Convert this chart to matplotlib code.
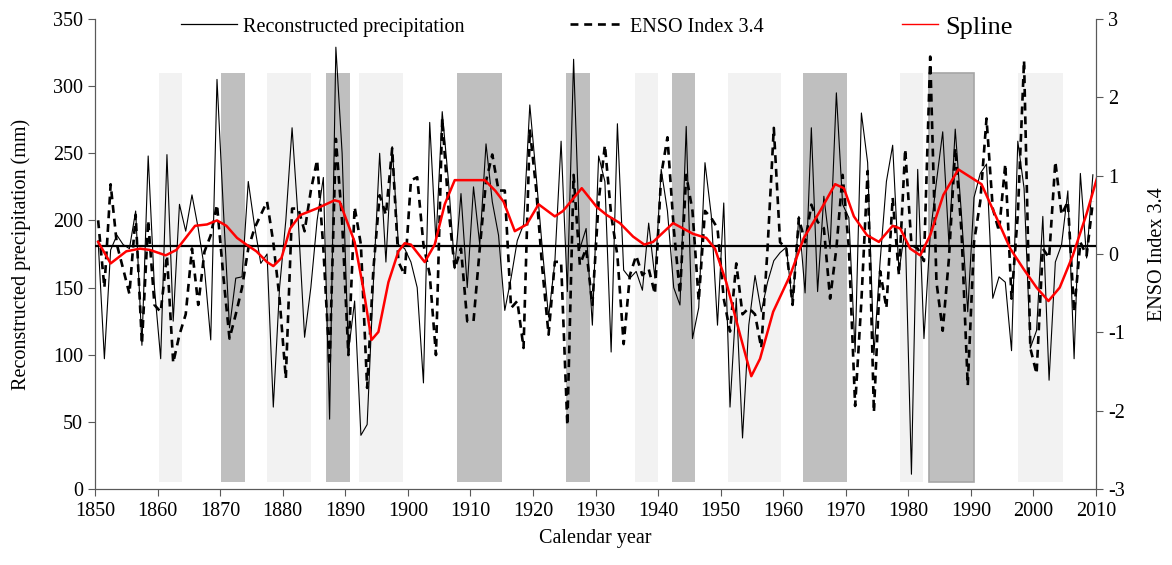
import numpy as np
import matplotlib
matplotlib.use("Agg")
import matplotlib.pyplot as plt
from matplotlib.lines import Line2D
from matplotlib.patches import Rectangle

plt.rcParams['font.family'] = ['Liberation Serif', 'DejaVu Serif']
plt.rcParams['axes.unicode_minus'] = False

# annual series, 1850-2009
years = np.arange(1850, 2010)

precip = [185, 97, 178, 189, 182, 179, 207, 107, 248, 150,
          97, 249, 125, 212, 192, 219, 194, 164, 111, 305,
          210, 120, 157, 158, 229, 196, 168, 175, 61, 150,
          200, 269, 199, 113, 150, 200, 232, 52, 329, 250,
          102, 140, 40, 48, 154, 250, 169, 255, 182, 179,
          169, 150, 79, 273, 184, 281, 229, 164, 220, 150,
          225, 182, 257, 214, 189, 133, 157, 185, 197, 286,
          234, 179, 128, 169, 259, 147, 320, 179, 194, 122,
          248, 229, 102, 272, 163, 157, 162, 148, 198, 157,
          238, 207, 150, 137, 270, 112, 135, 243, 204, 122,
          213, 61, 142, 38, 122, 159, 132, 154, 170, 176,
          180, 137, 203, 146, 269, 147, 218, 179, 295, 212,
          202, 102, 280, 243, 100, 170, 229, 256, 162, 194,
          11, 238, 112, 189, 229, 266, 182, 268, 204, 132,
          217, 235, 242, 142, 158, 154, 103, 259, 224, 105,
          118, 203, 81, 169, 182, 222, 97, 235, 172, 234]

enso = [0.43, -0.43, 0.89, 0.12, -0.19, -0.51, 0.50, -1.15, 0.43, -0.65,
        -0.74, -0.02, -1.39, -1.03, -0.77, 0.07, -0.65, 0.03, 0.24, 0.63,
        -0.27, -1.08, -0.77, -0.43, 0.07, 0.33, 0.50, 0.67, 0.15, -0.57,
        -1.59, 0.58, 0.58, 0.29, 0.81, 1.20, 0.07, -1.42, 1.47, 0.41,
        -1.29, 0.60, 0.12, -1.71, -0.19, 0.75, 0.50, 1.35, -0.10, -0.27,
        0.94, 0.98, 0.12, -0.26, -1.29, 1.73, 0.58, -0.19, 0.07, -0.86,
        -0.86, 0.07, 0.93, 1.27, 0.81, 0.81, -0.69, -0.60, -1.20, 1.59,
        0.84, -0.19, -1.03, -0.10, -0.10, -2.19, 1.01, -0.14, 0.07, -0.65,
        0.67, 1.39, 0.50, -0.02, -1.15, -0.27, -0.02, -0.27, -0.19, -0.51,
        1.01, 1.49, 0.33, -0.51, 1.01, 0.55, -0.60, 0.55, 0.46, 0.33,
        -0.57, -0.99, -0.12, -0.77, -0.69, -0.77, -1.20, 0.07, 1.61, 0.15,
        0.07, -0.65, 0.46, 0.15, 0.63, 0.41, 0.33, -0.57, 0.07, 1.01,
        0.07, -1.94, -0.60, 1.06, -2.02, -0.22, -0.69, 0.72, -0.27, 1.34,
        0.12, 0.07, -0.09, 2.52, -0.36, -0.98, -0.05, 1.35, 0.29, -1.68,
        0.15, 0.67, 1.73, 0.58, 0.29, 1.15, -0.57, 0.50, 2.47, -1.20,
        -1.53, 0.07, -0.05, 1.18, 0.50, 0.67, -0.74, 0.15, -0.02, 0.67]

# smoothing spline of precipitation, read at irregular positions
spline_t = [0, 2, 4.5, 6.7, 8.3, 10.8, 12.5, 14, 15.5, 17.4, 19, 20.5, 22.2,
            23.7, 25.3, 27, 28, 29.3, 30.7, 32.3, 35, 37.8, 38.6, 41, 42.4,
            43.7, 44.8, 46.4, 48, 49, 50, 52.2, 53.8, 55.4, 57, 59.2, 61.8,
            63.5, 64.8, 66.6, 68.5, 70.4, 73, 74.3, 77.3, 79.7, 81.3, 83.4,
            85.5, 87.3, 88.7, 91.9, 95.1, 97.2, 98.6, 100.4, 102.6, 104.4,
            105.8, 107.9, 110.6, 112.8, 115.4, 117.8, 119.2, 120.8, 122.9,
            124.8, 127, 128.2, 129.8, 131.4, 133, 135.1, 137.5, 141.2, 143.6,
            145.8, 147.9, 150, 151.9, 153.7, 155.8, 158, 160]
spline_v = [184, 168, 177, 179, 178, 174, 178, 187, 196, 197, 200, 196, 187,
            182, 177, 169, 166, 172, 194, 204, 209, 215, 214, 184, 149,
            111, 117, 154, 177, 183, 182, 169, 182, 212, 230, 230, 230,
            222, 214, 192, 197, 212, 203, 207, 224, 210, 204, 198,
            188, 182, 184, 198, 190, 187, 179, 154, 115, 84,
            97, 132, 159, 187, 207, 227, 224, 203, 189,
            184, 196, 194, 179, 174, 189, 219, 238, 227, 202,
            179, 164, 150, 140, 150, 174, 205, 237]

mean_precip = 181

# shaded periods (light / dark)
band_start = [1860.2, 1870.2, 1877.5, 1886.9, 1892.2, 1907.8, 1925.3, 1936.3,
              1942.2, 1951.2, 1963.1, 1978.7, 1983.3, 1997.6]
band_end = [1863.9, 1873.9, 1884.5, 1890.7, 1899.2, 1915.1, 1929.1, 1940.0,
            1945.9, 1959.6, 1970.2, 1982.4, 1990.5, 2004.7]
band_dark = [False, True, False, True, False, True, True, False,
             True, False, True, False, True, False]
band_low, band_high = 5, 310

fig = plt.figure(figsize=(11.72, 5.65), dpi=100)
ax = fig.add_axes([95 / 1172, 1 - 489 / 565, (1096 - 95) / 1172, (489 - 19) / 565])
ax2 = ax.twinx()
# precipitation axes on top, ENSO axes (with the shading) underneath
ax.set_zorder(ax2.get_zorder() + 1)
ax.patch.set_visible(False)

for s, e, dark in zip(band_start, band_end, band_dark):
    fc = '#bfbfbf' if dark else '#f2f2f2'
    ax2.add_patch(Rectangle((s, band_low), e - s, band_high - band_low,
                            facecolor=fc, edgecolor='none', zorder=0,
                            transform=ax.transData))
# the 1983-1990 period has an outline
ax2.add_patch(Rectangle((band_start[12], band_low), band_end[12] - band_start[12],
                        band_high - band_low, facecolor='none',
                        edgecolor='#a6a6a6', lw=1.2, zorder=0.5,
                        transform=ax.transData))

x = years + 0.5
ax2.plot(x, enso, color='black', lw=1.9, ls=(0, (3, 2.2)), zorder=3)
ax.plot(x, precip, color='black', lw=0.8, zorder=3)
ax.axhline(mean_precip, color='black', lw=1.6, zorder=4)
ax.plot(np.array(spline_t) + 1850.5, spline_v, color='#ff0000', lw=1.8, zorder=5)

ax.set_xlim(1850, 2010)
ax.set_ylim(0, 350)
ax2.set_ylim(-3, 3)
ax.set_xticks(np.arange(1850, 2011, 10))
ax.set_yticks(np.arange(0, 351, 50))
ax2.set_yticks(np.arange(-3, 4, 1))

spine_c = '#595959'
for a in (ax, ax2):
    a.spines['top'].set_visible(False)
    for sp in ('left', 'right', 'bottom'):
        a.spines[sp].set_color(spine_c)
    a.tick_params(colors=spine_c, labelcolor='black', labelsize=14.5,
                  direction='out', length=5)
ax.tick_params(axis='x', pad=4)

ax.set_xlabel('Calendar year', fontsize=14.5, labelpad=6)
ax.set_ylabel('Reconstructed precipitation (mm)', fontsize=14.5, labelpad=16)
ax2.set_ylabel('ENSO Index 3.4', fontsize=14.5, labelpad=17)

# legend entries along the top
h1 = Line2D([], [], color='black', lw=0.9)
h2 = Line2D([], [], color='black', lw=1.9, ls=(0, (3, 2.2)))
h3 = Line2D([], [], color='#ff0000', lw=1.0)
entries = [(h1, 'Reconstructed precipitation', 14.5, 2.8, 181),
           (h2, 'ENSO Index 3.4', 14.5, 2.7, 570),
           (h3, 'Spline', 19, 1.35, 902)]
for h, lab, fs, hl, px in entries:
    fig.legend([h], [lab], loc='center left',
               bbox_to_anchor=(px / 1172, 1 - 27 / 565), frameon=False,
               fontsize=fs, handlelength=hl, handletextpad=0.3,
               borderpad=0, borderaxespad=0)

fig.savefig('out.png', dpi=100)
